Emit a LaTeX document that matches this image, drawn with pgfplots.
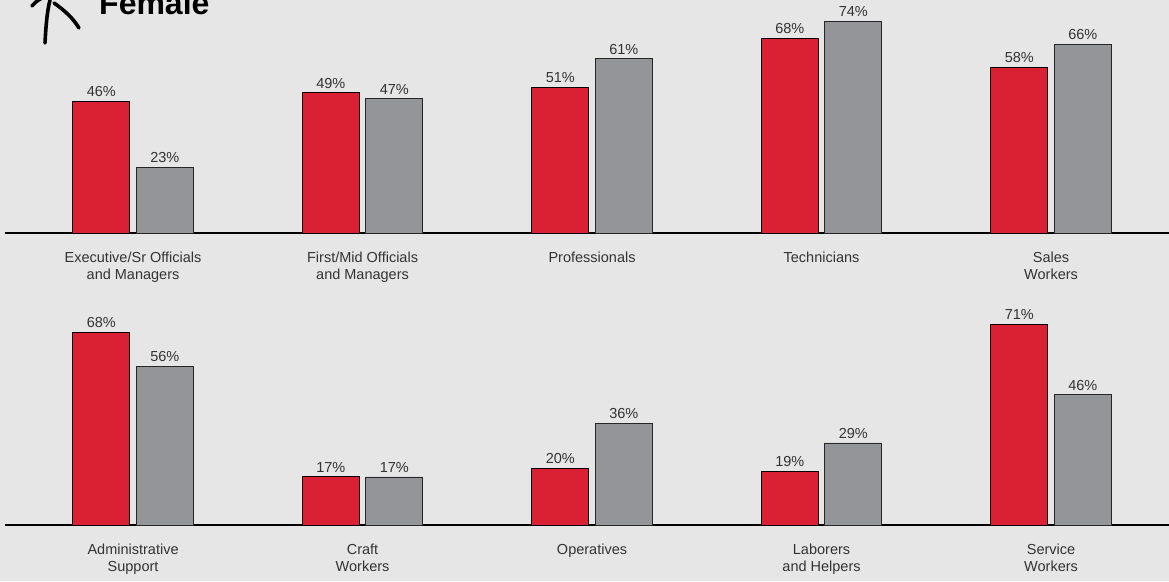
\documentclass[border=0pt]{standalone}
\usepackage{fontspec}
\setmainfont{Liberation Sans}
\usepackage{pgfplots}
\pgfplotsset{compat=1.18}

\definecolor{bg}{HTML}{E6E6E6}
\definecolor{fred}{HTML}{DA2033}
\definecolor{mgray}{HTML}{939598}
\definecolor{txt}{HTML}{333333}

\pgfplotsset{
  panel/.style={
    scale only axis,
    width=1164pt,
    xmin=-0.558, xmax=4.514,
    ymin=0, ymax=80,
    axis x line=bottom,
    axis y line=none,
    axis line style={line width=1.3pt, black, -},
    x axis line style={-},
    xtick={0,1,2,3,4},
    major tick length=0pt,
    /pgf/number format/assume math mode=true,
    xticklabel style={align=center, font=\fontsize{14.5}{17}\selectfont, text=txt, yshift=-15pt},
    ybar,
    bar width=57pt,
    nodes near coords={\pgfmathprintnumber{\pgfplotspointmeta}\%},
    nodes near coords style={font=\fontsize{14.5}{15}\selectfont, text=txt, inner sep=2pt, yshift=2pt},
    clip=false,
  },
  redbar/.style={fill=fred, draw=black, line width=1pt, bar shift=-31.75pt},
  graybar/.style={fill=mgray, draw=black!85, line width=0.8pt, bar shift=31.75pt},
}

\begin{document}
\begin{tikzpicture}[x=1pt,y=1pt]
\clip (0,0) rectangle (1169,-581);
\fill[bg] (0,0) rectangle (1169,-581);

% doodle arrow and title
\draw[line width=3.6pt, line cap=round] (45,-43) .. controls (46,-25) and (47,-12) .. (50,0);
\draw[line width=3.6pt, line cap=round] (32,-6) .. controls (36,-1) and (40,1) .. (44,3);
\draw[line width=3.6pt, line cap=round] (54,-3) .. controls (64,-10) and (73,-18) .. (79,-28);
\node[anchor=base west, inner sep=0pt, font=\fontsize{32}{32}\selectfont\bfseries] at (99,-14) {Female};

% top panel
\begin{axis}[panel, height=228.8pt, at={(5pt,-233pt)}, anchor=south west,
  xticklabels={{Executive/Sr Officials\\and Managers},{First/Mid Officials\\and Managers},{Professionals},{Technicians},{Sales\\Workers}}]
\addplot[redbar] coordinates {(0,46) (1,49) (2,51) (3,68) (4,58)};
\addplot[graybar] coordinates {(0,23) (1,47) (2,61) (3,74) (4,66)};
\end{axis}

% bottom panel
\begin{axis}[panel, height=226.4pt, at={(5pt,-525pt)}, anchor=south west,
  xticklabels={{Administrative\\Support},{Craft\\Workers},{Operatives},{Laborers\\and Helpers},{Service\\Workers}}]
\addplot[redbar] coordinates {(0,68) (1,17) (2,20) (3,19) (4,71)};
\addplot[graybar] coordinates {(0,56) (1,17) (2,36) (3,29) (4,46)};
\end{axis}
\end{tikzpicture}
\end{document}
